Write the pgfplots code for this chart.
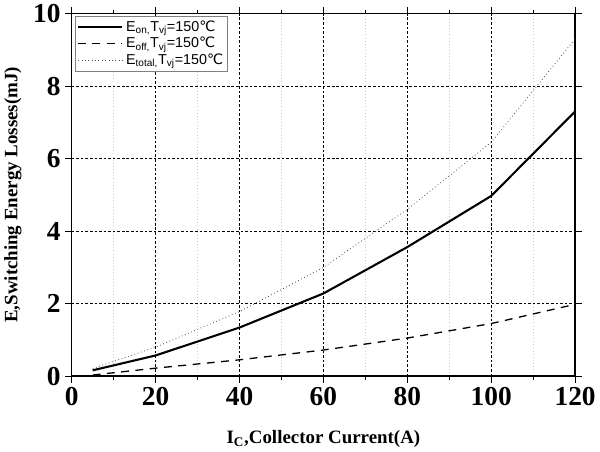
\documentclass[border=0pt]{standalone}
\usepackage{fontspec}
\setmainfont{Liberation Serif}
\newfontfamily\lsans{Liberation Sans}
\newfontfamily\dejavu{DejaVu Sans}
\usepackage{pgfplots}
\pgfplotsset{compat=1.18}
\begin{document}
\begin{tikzpicture}
\begin{axis}[
  scale only axis,
  width=386pt, height=278pt,
  xmin=0, xmax=120, ymin=0, ymax=10,
  xtick={0,20,...,120}, ytick={0,2,...,10},
  minor xtick={10,30,...,110},
  tick align=outside,
  major tick length=5pt, minor tick length=3pt,
  tick style={black, line width=0.8pt},
  axis line style={line width=1.2pt},
  grid=both,
  major grid style={black, dashed, line width=0.5pt, dash pattern=on 2pt off 1.5pt},
  minor grid style={gray!40, dotted, line width=0.4pt},
  /pgf/number format/assume math mode=true,
  ticklabel style={font=\fontsize{21}{24}\selectfont\bfseries},
  xlabel={I\textsubscript{C},Collector Current(A)},
  ylabel={E,Switching Energy Losses(mJ)},
  label style={font=\fontsize{14.5}{16}\selectfont\bfseries},
  xlabel style={yshift=-12pt},
  ylabel style={yshift=2pt},
  legend style={at={(0.006,0.994)}, anchor=north west, draw=gray, line width=0.6pt,
    font=\lsans\fontsize{11}{12}\selectfont, row sep=-1pt, inner sep=1.5pt},
  legend cell align=left,
  legend image code/.code={\draw[#1] (0pt,0pt) -- (34pt,0pt);},
]
\addplot[black, line width=1.6pt] coordinates {(5,0.16) (20,0.57) (40,1.34) (60,2.28) (80,3.56) (100,4.97) (120,7.3)};
\addlegendentry{E\textsubscript{on,}T\textsubscript{vj}=150{\dejavu ℃}}
\addplot[black, line width=1.0pt, dash pattern=on 6pt off 5pt] coordinates {(5,0.03) (20,0.22) (40,0.45) (60,0.72) (80,1.05) (100,1.45) (120,1.98)};
\addlegendentry{E\textsubscript{off,}T\textsubscript{vj}=150{\dejavu ℃}}
\addplot[black!70, line width=0.6pt, dotted] coordinates {(5,0.21) (20,0.8) (40,1.78) (60,3.0) (80,4.6) (100,6.45) (120,9.3)};
\addlegendentry{E\textsubscript{total,}T\textsubscript{vj}=150{\dejavu ℃}}
\end{axis}
\end{tikzpicture}
\end{document}
